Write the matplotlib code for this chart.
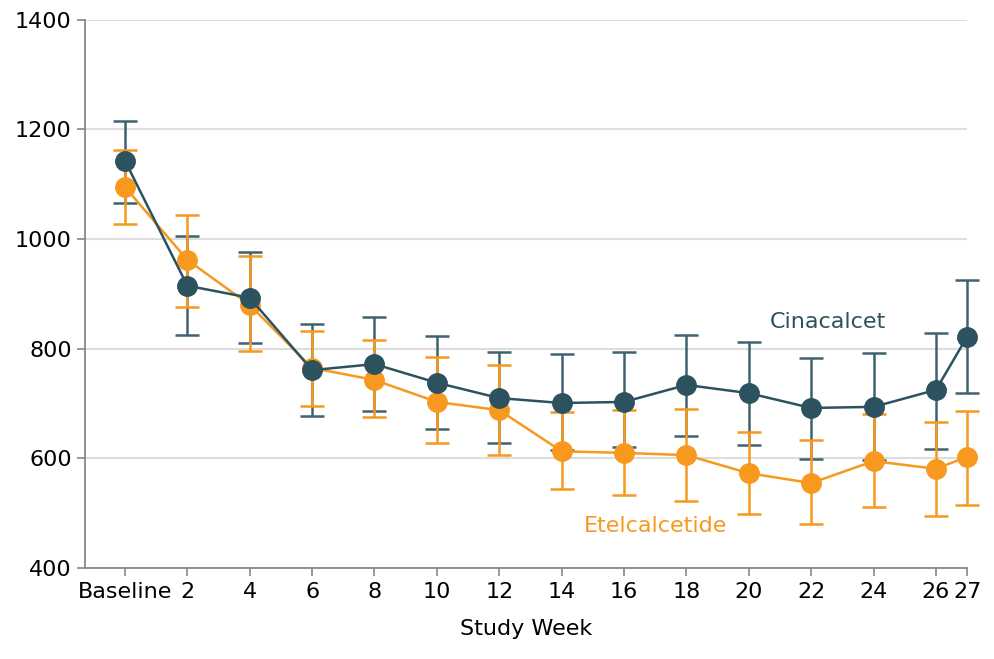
import matplotlib
matplotlib.use("Agg")
import matplotlib.pyplot as plt

weeks = [0, 2, 4, 6, 8, 10, 12, 14, 16, 18, 20, 22, 24, 26, 27]
tick_labels = ["Baseline", "2", "4", "6", "8", "10", "12", "14", "16", "18", "20", "22", "24", "26", "27"]

cina_mean = [1143, 915, 893, 761, 772, 738, 710, 701, 703, 734, 719, 692, 694, 725, 822]
cina_upper = [1216, 1006, 977, 845, 858, 823, 794, 790, 794, 825, 812, 783, 792, 829, 926]
cina_lower = [1066, 825, 811, 677, 686, 654, 628, 615, 621, 641, 624, 599, 597, 617, 719]

etel_mean = [1095, 962, 880, 765, 743, 703, 688, 613, 610, 606, 573, 555, 595, 581, 603]
etel_upper = [1163, 1044, 969, 832, 816, 785, 770, 685, 689, 690, 648, 634, 681, 666, 686]
etel_lower = [1028, 876, 796, 696, 675, 628, 606, 544, 533, 522, 499, 480, 511, 495, 515]

DARK = "#2c5260"
DARK_EB = "#3f6270"
ORANGE = "#f7991f"

plt.rcParams['font.family'] = ['DejaVu Sans']

fig = plt.figure(figsize=(9.94, 6.59), dpi=100)
ax = fig.add_axes([0.0855, 0.138, 0.8875, 0.832])

def yerr(mean, lo, hi):
    return [[m - l for m, l in zip(mean, lo)], [h - m for m, h in zip(mean, hi)]]

eb1 = ax.errorbar(weeks, cina_mean, yerr=yerr(cina_mean, cina_lower, cina_upper), fmt='none',
                  ecolor=DARK_EB, elinewidth=1.8, capsize=8.5, capthick=1.8, zorder=3)
eb2 = ax.errorbar(weeks, etel_mean, yerr=yerr(etel_mean, etel_lower, etel_upper), fmt='none',
                  ecolor=ORANGE, elinewidth=1.8, capsize=8.5, capthick=1.8, zorder=4)
for eb in (eb1, eb2):
    for child in eb.get_children():
        child.set_clip_on(False)
ax.plot(weeks, etel_mean, '-o', color=ORANGE, lw=1.8, ms=14, zorder=5, clip_on=False)
ax.plot(weeks, cina_mean, '-o', color=DARK, lw=1.8, ms=14, zorder=6, clip_on=False)

fig.text(828 / 994, 1 - 322 / 659, "Cinacalcet", color=DARK, fontsize=16,
         ha='center', va='center')
fig.text(656 / 994, 1 - 526 / 659, "Etelcalcetide", color=ORANGE, fontsize=16,
         ha='center', va='center')

ax.set_xlim(-1.28, 27)
ax.set_ylim(400, 1400)
ax.set_yticks([400, 600, 800, 1000, 1200, 1400])
ax.set_xticks(weeks)
ax.set_xticklabels(tick_labels)
ax.tick_params(axis='both', labelsize=16, colors='#888888', labelcolor='black',
               length=6, width=1.2, direction='out')
ax.tick_params(axis='x', pad=4)
ax.yaxis.grid(True, color='#dddddd', lw=1.5)
ax.set_axisbelow(True)
for s in ['top', 'right']:
    ax.spines[s].set_visible(False)
for s in ['left', 'bottom']:
    ax.spines[s].set_color('#888888')
    ax.spines[s].set_linewidth(1.3)
ax.set_xlabel("Study Week", fontsize=16, labelpad=12)

fig.savefig("out.png", dpi=100)
